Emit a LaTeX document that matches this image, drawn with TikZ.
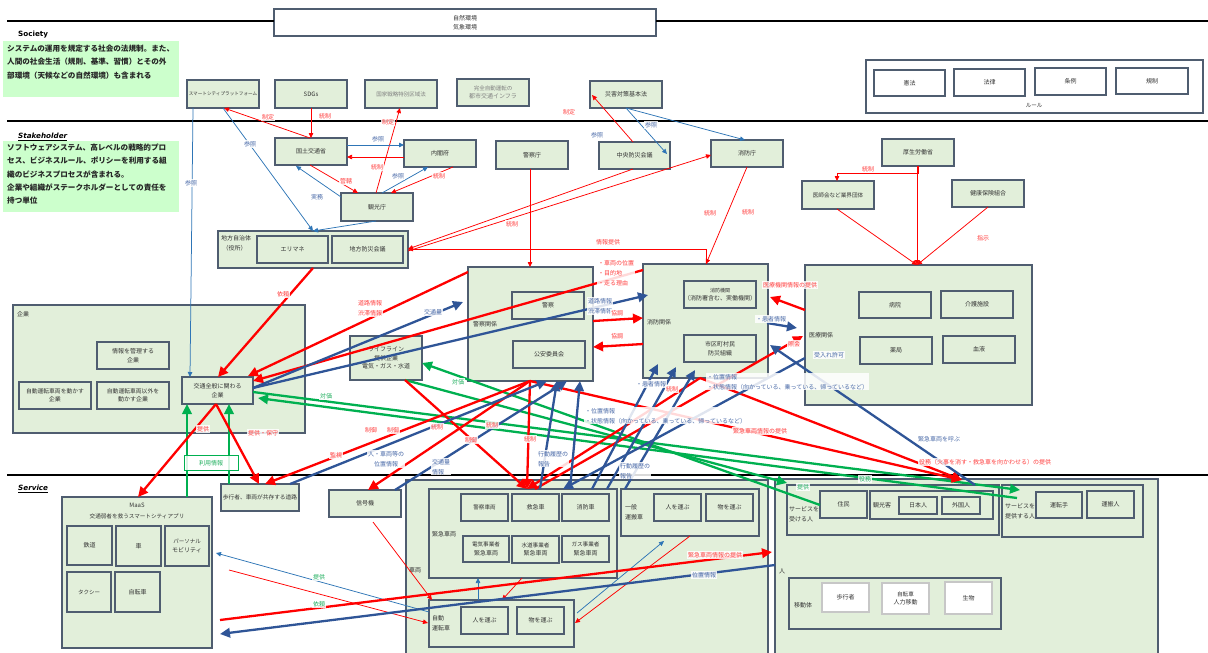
\documentclass[tikz,border=0pt]{standalone}
\usepackage{fontspec}
\setmainfont{Noto Sans CJK JP}
\newfontfamily\verd{DejaVu Sans}
\usetikzlibrary{arrows.meta,calc}
\definecolor{boxg}{HTML}{E2EFDA}
\definecolor{bord}{HTML}{4F5D70}
\definecolor{lgreen}{HTML}{CCFFCC}
\definecolor{rd}{HTML}{FF0000}
\definecolor{bl}{HTML}{2F5597}
\definecolor{tbl}{HTML}{2E75B6}
\definecolor{gr}{HTML}{00B050}
\definecolor{lblr}{HTML}{FF4040}
\definecolor{lblb}{HTML}{4A6AA8}
\definecolor{lblg}{HTML}{22B060}
\definecolor{txt}{HTML}{333333}
\definecolor{gtxt}{HTML}{808080}
\newcommand\fsz[2]{\fontsize{#1}{#2}\selectfont}
\newcommand\bx[7][]{\node[bxs,minimum width={(#5)-(#3)},minimum height={(#6)-(#4)},#1] (#2) at ({((#3)+(#5))/2},{((#4)+(#6))/2}) {#7};}
\newcommand\PT[3]{($(#1.north west)+(#2,#3)$)}
\begin{document}
\begin{tikzpicture}[x=1pt,y=-1pt,
 bxs/.style={draw=bord,line width=1.1pt,fill=boxg,inner sep=0pt,outer sep=0pt,align=center,font=\fsz{6}{8.5},text=txt},
 wbx/.style={bxs,fill=white},
 gbx/.style={bxs,text=gtxt},
 pbx/.style={bxs,fill=white,draw=black!22},
 lab/.style={fill=white,fill opacity=0.85,text opacity=1,inner sep=0.8pt,font=\fsz{6}{10},align=center},
 labr/.style={lab,text=lblr}, labb/.style={lab,text=lblb}, labg/.style={lab,text=lblg},
 clab/.style={inner sep=0pt,font=\fsz{6}{10},align=left,text=txt,anchor=west},
 tred/.style={draw=rd,line width=0.75pt,-{Triangle[length=5pt,width=4.5pt]}},
 tblue/.style={draw=tbl,line width=0.75pt,-{Triangle[length=5pt,width=4.5pt]}},
 kred/.style={draw=rd,line width=2.3pt,-{Triangle[length=10pt,width=9.5pt]}},
 kblue/.style={draw=bl,line width=2.3pt,-{Triangle[length=10pt,width=9.5pt]}},
 kgreen/.style={draw=gr,line width=2.3pt,-{Triangle[length=10pt,width=9.5pt]}},
 sepl/.style={draw=black,line width=1.4pt},
 sect/.style={inner sep=0pt,anchor=west,font=\verd\bfseries\fsz{7.2}{8}},
 gtext/.style={inner sep=0pt,anchor=north west,align=left,font=\bfseries\fsz{7.6}{13.2},text=black!85}]
\path[use as bounding box] (0,0) rectangle (1208,653);

% ---------- separators and left texts
\bx[wbx]{env}{274}{9}{656}{36}{\fsz{6}{10}自然環境\\気象環境}
\draw[sepl] (7,21) -- (274,21);
\draw[sepl] (656,21) -- (1208,21);
\draw[sepl] (7,121) -- (1208,121);
\draw[sepl] (7,475) -- (1208,475);

\node[sect] (tsoc) at (18,35) {Society};
\fill[lgreen] (3,41) rectangle (179,97);
\node[gtext] (soctxt) at (7,45) {システムの運用を規定する社会の法規制。また、\\人間の社会生活（規則、基準、習慣）とその外\\部環境（天候などの自然環境）も含まれる};
\node[sect] (tsth) at (18,137) {\itshape\underline{Stakeholder}};
\fill[lgreen] (3,141) rectangle (179,212);
\node[gtext] (sthtxt) at (7,144) {ソフトウェアシステム、高レベルの戦略的プロ\\セス、ビジネスルール、ポリシーを利用する組\\織のビジネスプロセスが含まれる。\\企業や組織がステークホルダーとしての責任を\\持つ単位};
\node[sect] (tsrv) at (18,489) {\itshape\underline{Service}};

% ---------- Society
\bx{smart}{187}{80}{259}{108}{\fsz{4.6}{6}スマートシティプラットフォーム}
\bx{sdgs}{275}{80}{347}{108}{SDGs}
\bx[gbx]{kokka}{365}{80}{437}{108}{\fsz{5.5}{7}国家戦略特別区域法}
\bx[gbx]{kanzen}{457}{79}{529}{106}{\fsz{5.5}{10}完全自動運転の\\都市交通インフラ}
\bx{saigai}{590}{81}{662}{108}{災害対策基本法}
\bx[wbx]{rulec}{866}{60}{1203}{113}{}
\bx[wbx]{kenpo}{874}{70}{945}{96}{憲法}
\bx[wbx]{horitsu}{954}{69}{1025}{96}{法律}
\bx[wbx]{jorei}{1035}{68}{1106}{95}{条例}
\bx[wbx]{kisei}{1116}{68}{1188}{94}{規制}
\node[inner sep=0pt,font=\fsz{5.5}{7},text=txt] (rulel) at (1034,106) {ルール};

% ---------- Stakeholder
\bx{kokudo}{275}{138}{347}{165}{国土交通省}
\bx{naikaku}{404}{140}{476}{167}{内閣府}
\bx{keisatsucho}{496}{141}{568}{169}{警察庁}
\bx{chuo}{599}{142}{670}{169}{中央防災会議}
\bx{shobocho}{711}{140}{783}{167}{消防庁}
\bx{kanko}{341}{193}{413}{221}{観光庁}
\bx{kosei}{882}{139}{954}{166}{厚生労働省}
\bx{ishikai}{802}{181}{874}{209}{\fsz{5.6}{7}医師会など業界団体}
\bx{kenko}{952}{180}{1024}{207}{健康保険組合}
\bx{jichi}{218}{231}{408}{268}{}
\node[clab,anchor=north west] (jichil) at (221,235) {地方自治体\\\ （役所）};
\bx{erimane}{257}{236}{328}{263}{エリマネ}
\bx{chiho}{332}{236}{403}{263}{地方防災会議}

% ---------- middle
\bx{kigyo}{13}{305}{305}{433}{}
\node[clab] (kigyol) at (17,314) {企業};
\bx{joho}{97}{342}{169}{369}{\fsz{6}{10}情報を管理する\\企業}
\bx{jido1}{19}{382}{91}{409}{\fsz{5.8}{10}自動運転車両を動かす\\企業}
\bx{jido2}{97}{382}{169}{409}{\fsz{5.8}{10}自動運転車両以外を\\動かす企業}
\bx{kotsu}{182}{377}{253}{404}{\fsz{6}{10}交通全般に関わる\\企業}
\bx{life}{350}{336}{422}{380}{\fsz{6}{10.5}ライフライン\\提供企業\\電気・ガス・水道}
\bx{keiK}{468}{267}{593}{381}{}
\node[clab] (keiKl) at (473,324) {警察関係};
\bx{keisatsu}{512}{292}{584}{319}{警察}
\bx{koan}{513}{341}{585}{368}{公安委員会}
\bx{shoK}{643}{264}{768}{378}{}
\node[clab] (shoKl) at (647,322) {消防関係};
\bx{shobo}{684}{281}{756}{308}{\fsz{5}{10}消防機関\\（消防署含む、実働機関）}
\bx{shimin}{684}{335}{756}{362}{\fsz{6}{10}市区町村民\\防災組織}
\bx{iryoK}{805}{265}{1032}{405}{}
\node[clab] (iryoKl) at (809,335) {医療関係};
\bx{byoin}{859}{292}{931}{318}{病院}
\bx{kaigo}{941}{291}{1013}{318}{介護施設}
\bx{yakkyoku}{860}{337}{932}{364}{薬局}
\bx{ketsueki}{943}{336}{1015}{363}{血液}

% ---------- Service
\bx{doro}{221}{484}{299}{511}{\fsz{5.7}{7}歩行者、車両が共存する道路}
\bx{maas}{62}{497}{212}{648}{}
\node[inner sep=0pt,font=\fsz{6}{8},text=txt] (maasl) at (137,505) {MaaS};
\node[inner sep=0pt,font=\fsz{5.6}{8},text=txt] (maasl2) at (137,516) {交通弱者を救うスマートシティアプリ};
\bx{tetsudo}{67}{526}{112}{565}{鉄道}
\bx{kuruma}{116}{526}{161}{566}{車}
\bx{pm}{165}{526}{209}{566}{\fsz{5.5}{10}パーソナル\\モビリティ}
\bx{taxi}{67}{572}{111}{612}{\fsz{5.5}{7}タクシー}
\bx{jitensha}{115}{572}{160}{612}{自転車}
\bx{shingo}{329}{490}{401}{517}{信号機}
\bx{sharyo}{406}{480}{768}{662}{}
\node[clab] (sharyol) at (409,570) {車両};
\bx{kinkyu}{429}{489}{617}{578}{}
\node[clab] (kinkyul) at (432,534) {緊急車両};
\bx{kcar}{461}{494}{508}{521}{\fsz{5.6}{7}警察車両}
\bx{kyukyu}{512}{494}{559}{521}{救急車}
\bx{shobosha}{562}{494}{609}{521}{消防車}
\bx{denki}{463}{536}{509}{562}{\fsz{5.6}{10}電気事業者\\緊急車両}
\bx{suido}{512}{536}{559}{563}{\fsz{5.6}{10}水道事業者\\緊急車両}
\bx{gas}{562}{536}{609}{562}{\fsz{5.6}{10}ガス事業者\\緊急車両}
\bx{ippan}{621}{489}{759}{536}{}
\node[clab] (ippanl) at (625,512) {一般\\運搬車};
\bx{hito1}{654}{494}{701}{521}{人を運ぶ}
\bx{mono1}{706}{494}{753}{521}{物を運ぶ}
\bx{jidosha}{429}{600}{574}{647}{}
\node[clab] (jidoshal) at (432,623) {自動\\運転車};
\bx{hito2}{461}{607}{508}{634}{人を運ぶ}
\bx{mono2}{517}{607}{564}{634}{物を運ぶ}
\bx{hitoC}{775}{479}{1158}{662}{}
\node[clab] (hitoCl) at (779,571) {人};
\bx{ukeru}{787}{485}{999}{535}{}
\node[clab] (ukerul) at (789,514) {サービスを\\受ける人};
\bx{jumin}{820}{491}{867}{518}{住民}
\bx{kankoC}{870}{491}{993}{519}{}
\node[clab] (kankoCl) at (873,505) {観光客};
\bx{nihon}{899}{497}{937}{514}{日本人}
\bx{gaikoku}{942}{497}{980}{514}{外国人}
\bx{teikyo}{1002}{485}{1143}{537}{}
\node[clab] (teikyol) at (1005,511) {サービスを\\提供する人};
\bx{untenshu}{1036}{492}{1082}{518}{運転手}
\bx{unpan}{1087}{491}{1134}{518}{運搬人}
\bx{idotai}{789}{578}{1001}{629}{}
\node[clab] (idotail) at (794,605) {移動体};
\bx[pbx]{hokosha}{822}{583}{869}{612}{歩行者}
\bx[pbx]{jitensha2}{882}{583}{929}{614}{\fsz{5.6}{10}自転車\\人力移動}
\bx[pbx]{seibutsu}{945}{582}{992}{614}{生物}

% ---------- thin connectors (upper)
\draw[tred] \PT{kokudo}{35}{0} -- \PT{smart}{37}{28};
\draw[tred] \PT{sdgs}{36}{28} -- \PT{kokudo}{36}{0};
\draw[tred] \PT{kanko}{35}{0} -- \PT{kokka}{35}{28};
\draw[tred] \PT{chuo}{34}{0} -- \PT{saigai}{2}{14};
\draw[tblue] \PT{saigai}{36}{27} -- \PT{chuo}{68}{12};
\draw[tblue] \PT{saigai}{36}{27} -- \PT{shobocho}{34}{0};
\draw[tblue] \PT{kokudo}{72}{7} -- \PT{naikaku}{0}{5};
\draw[tred] \PT{naikaku}{0}{17} -- \PT{kokudo}{72}{19};
\draw[tblue] \PT{kanko}{41}{0} -- \PT{naikaku}{24}{27};
\draw[tred] \PT{naikaku}{49}{27} -- \PT{kanko}{50}{0};
\draw[tred] \PT{kokudo}{35}{27} -- \PT{kanko}{17}{0};
\draw[tblue] \PT{kanko}{0}{4} -- \PT{kokudo}{21}{28};
\draw[tblue] \PT{smart}{36}{28} -- \PT{jichi}{95}{0};
\draw[tblue] \PT{kanko}{35}{28} -- \PT{jichi}{95}{0};
\draw[tblue] \PT{smart}{6}{28} -- \PT{kotsu}{8}{0};
\draw[tred] \PT{keisatsucho}{34}{28} -- \PT{keiK}{62}{0};
\draw[tred] \PT{chuo}{34}{27} -- \PT{jichi}{190}{18};
\draw[tred] \PT{jichi}{190}{20} -- \PT{shobocho}{0}{15};
\draw[tred] \PT{shoK}{63}{0} |- \PT{jichi}{190}{18};
\draw[tred] \PT{shobocho}{36}{27} -- \PT{shoK}{63}{0};
\draw[tred] \PT{kosei}{36}{27} -- ++(0,7) -| \PT{ishikai}{35}{0};
\draw[tred] \PT{kosei}{35}{27} -- \PT{iryoK}{112}{0};
\draw[tred] \PT{ishikai}{35}{28} -- \PT{iryoK}{112}{0};
\draw[tred] \PT{kenko}{36}{27} -- \PT{iryoK}{112}{0};

% ---------- thin connectors (lower)
\draw[tblue] \PT{jidosha}{0}{12} -- \PT{maas}{154}{56};
\draw[tred] \PT{maas}{167}{73} -- \PT{jidosha}{-1}{23};
\draw[tred] \PT{shingo}{44}{32} -- \PT{jidosha}{3}{0};
\draw[tblue] \PT{jidosha}{49}{0} -- \PT{kinkyu}{49}{89};
\draw[tred] \PT{kinkyu}{93}{89} -- \PT{jidosha}{73}{0};
\draw[tblue] \PT{jidosha}{148}{13} -- \PT{ippan}{43}{52};
\draw[tred] \PT{ippan}{69}{47} -- \PT{jidosha}{146}{23};

% ---------- thick green
\draw[kgreen] \PT{kotsu}{71}{15} -- \PT{teikyo}{18}{5};
\draw[kgreen] \PT{teikyo}{15}{13} -- \PT{kotsu}{76}{21};
\draw[kgreen] \PT{life}{55}{44} -- \PT{ukeru}{0}{-2};
\draw[kgreen] \PT{jumin}{0}{14} -- \PT{life}{72}{27};
\draw[kgreen] \PT{maas}{125}{0} -- \PT{kotsu}{5}{27};
\draw[kgreen] \PT{doro}{8}{0} -- \PT{kotsu}{47}{27};

% ---------- thick red
\draw[kred] \PT{jichi}{95}{37} -- \PT{kotsu}{36}{0};
\draw[kred] \PT{keiK}{0}{5} -- \PT{kotsu}{66}{-1};
\draw[kred] \PT{shoK}{0}{6} -- \PT{kotsu}{71}{4};
\draw[kred] \PT{kotsu}{34}{27} -- \PT{maas}{76}{0};
\draw[kred] \PT{kotsu}{34}{27} -- \PT{doro}{38}{0};
\draw[kred] \PT{keiK}{62}{114} -- \PT{doro}{44}{0};
\draw[kred] \PT{keiK}{62}{114} -- \PT{shingo}{39}{0};
\draw[kred] \PT{keiK}{62}{114} -- \PT{kinkyu}{98}{0};
\draw[kred] \PT{life}{55}{44} -- \PT{kinkyu}{98}{0};
\draw[kred] \PT{keiK}{62}{114} -- \PT{ukeru}{175}{-5};
\draw[kred] \PT{shoK}{57}{114} -- \PT{ukeru}{175}{-5};
\draw[kred] \PT{shoK}{57}{114} -- \PT{kinkyu}{98}{0};
\draw[kred] \PT{kinkyu}{106}{0} -- \PT{iryoK}{-2}{71};
\draw[kred] \PT{iryoK}{0}{45} -- \PT{shoK}{127}{33};
\draw[kred] \PT{keiK}{125}{54} -- \PT{shoK}{0}{54};
\draw[kred] \PT{shoK}{0}{80} -- \PT{keiK}{125}{80};
\draw[kred] \PT{maas}{158}{123} -- \PT{hitoC}{-3}{73};

% ---------- thick blue
\draw[kblue] \PT{kotsu}{71}{11} -- \PT{keiK}{-5}{35};
\draw[kblue] \PT{kotsu}{71}{11} -- \PT{shoK}{5}{31};
\draw[kblue] \PT{shoK}{124}{59} -- \PT{iryoK}{-8}{63};
\draw[kblue] \PT{ukeru}{188}{0} -- \PT{shoK}{127}{81};
\draw[kblue] \PT{iryoK}{0}{93} -- \PT{kinkyu}{134}{0};
\draw[kblue] \PT{doro}{69}{0} -- \PT{keiK}{79}{114};
\draw[kblue] \PT{shingo}{66}{0} -- \PT{keiK}{99}{114};
\draw[kblue] \PT{kinkyu}{111}{0} -- \PT{keiK}{89}{114};
\draw[kblue] \PT{kinkyu}{141}{0} -- \PT{keiK}{112}{114};
\draw[kblue] \PT{kinkyu}{163}{0} -- \PT{shoK}{15}{100};
\draw[kblue] \PT{kinkyu}{178}{0} -- \PT{shoK}{33}{103};
\draw[kblue] \PT{ippan}{4}{0} -- \PT{shoK}{52}{106};
\draw[kblue] \PT{hitoC}{0}{86} -- \PT{maas}{158}{137};

% ---------- labels
\node[labr] (a1) at (268,117) {制定};
\node[labr] (a2) at (325,116) {統制};
\node[labr] (a3) at (388,122) {制定};
\node[labr] (a4) at (569,112) {制定};
\node[labb] (a5) at (651,125) {参照};
\node[labb] (a6) at (597,135) {参照};
\node[labb] (a7) at (378,139) {参照};
\node[labr] (a8) at (377,167) {統制};
\node[labb] (a9) at (398,176) {参照};
\node[labr] (a10) at (439,176) {統制};
\node[labr] (a11) at (346,181) {管轄};
\node[labb] (a12) at (317,197) {実務};
\node[labb] (a13) at (250,144) {参照};
\node[labb] (a14) at (191,183) {参照};
\node[labr] (a15) at (512,224) {統制};
\node[labr] (a16) at (608,242) {情報提供};
\node[labr] (a17) at (710,213) {統制};
\node[labr] (a18) at (748,212) {統制};
\node[labr] (a19) at (868,169) {統制};
\node[labr] (a20) at (983,238) {指示};
\node[labr] (a21) at (283,294) {依頼};
\node[labr] (a22) at (370,308) {道路情報\\渋滞情報};
\node[labb] (a23) at (433,312) {交通量};
\node[labr,anchor=north west,align=left] (a24) at (597,259) {・車両の位置\\・目的地\\・走る理由};
\node[labb] (a25) at (600,306) {道路情報\\渋滞情報};
\node[labr] (a26) at (617,313) {協調};
\node[labr] (a27) at (617,336) {協調};
\node[labr] (a28) at (790,285) {医療機関情報の提供};
\node[labb] (a29) at (771,319) {・患者情報};
\node[labr] (a30) at (794,344) {照会};
\node[labb] (a31) at (829,355) {受入れ許可};
\node[labb,anchor=north west,align=left] (a32) at (706,373) {・位置情報\\・状態情報（向かっている、乗っている、帰っているなど）};
\node[labb] (a33) at (651,384) {・患者情報};
\node[labr] (a34) at (672,389) {統制};
\node[labb,anchor=north west,align=left] (a35) at (584,407) {・位置情報\\・状態情報（向かっている、乗っている、帰っているなど）};
\node[labr] (a36) at (760,431) {緊急車両情報の提供};
\node[labb] (a37) at (939,439) {緊急車両を呼ぶ};
\node[labr] (a38) at (985,462) {役務（火事を消す・救急車を向かわせる）の提供};
\node[labg] (a39) at (865,479) {役務};
\node[labg] (a40) at (803,487) {提供};
\node[labg] (a41) at (326,396) {対価};
\node[labg] (a42) at (458,382) {対価};
\node[labr] (a43) at (203,429) {提供};
\node[labr] (a44) at (263,433) {提供・保守};
\node[lab,draw=gr,line width=0.8pt,text=lblg,minimum width=54,minimum height=15] (a45) at (211,463) {利用情報};
\node[labr] (a46) at (336,455) {監視};
\node[labb] (a47) at (386,459) {人・車両等の\\位置情報};
\node[labr] (a48) at (371,430) {制御};
\node[labr] (a49) at (393,430) {制御};
\node[labr] (a50) at (437,427) {統制};
\node[labr] (a51) at (471,440) {制御};
\node[labr] (a52) at (492,425) {統制};
\node[labr] (a53) at (530,439) {統制};
\node[labb,anchor=north west,align=left] (a54) at (431,458) {交通量\\情報};
\node[labb,anchor=north west,align=left] (a55) at (537,450) {行動履歴の\\報告};
\node[labb,anchor=north west,align=left] (a56) at (619,462) {行動履歴の\\報告};
\node[labr] (a57) at (715,555) {緊急車両情報の提供};
\node[labb] (a58) at (704,575) {位置情報};
\node[labg] (a59) at (319,577) {提供};
\node[labg] (a60) at (319,604) {依頼};
\end{tikzpicture}
\end{document}
